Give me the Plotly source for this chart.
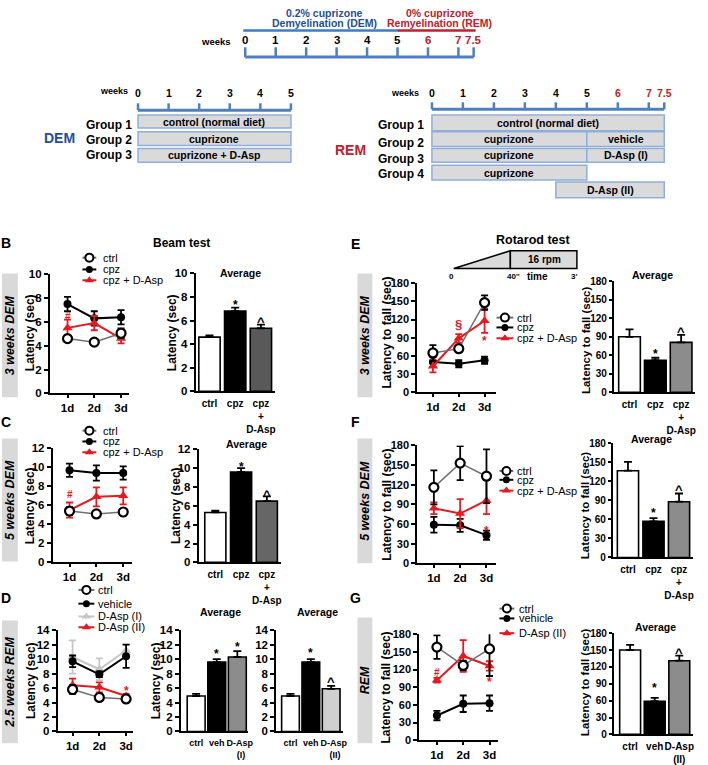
import plotly.graph_objects as go

W, H = 708, 765
FONT = "Liberation Sans, Arial, Helvetica, sans-serif"
RED = "#e8191e"
DKRED = "#c0202a"
BLUE = "#1f4e9e"
AXBLUE = "#4f7fbf"
BOXFILL = "#dadada"
BOXLINE = "#8eaedb"
SIDEFILL = "#d9d9d9"
CTRL_LINE = "#707070"
LGRAY = "#c6c6c6"

# ---------------- data ----------------
days = [1, 2, 3]
day_labels = ["1d", "2d", "3d"]
groups3 = [0, 1, 2]

# B: beam test, 3 weeks DEM
B_ctrl = [4.6, 4.3, 5.05]
B_ctrl_err = [0.3, 0.2, 0.4]
B_cpz = [7.5, 6.3, 6.4]
B_cpz_err = [0.6, 0.6, 0.6]
B_dasp = [5.5, 5.9, 4.6]
B_dasp_err = [0.7, 0.6, 0.4]
B_avg = [4.6, 6.8, 5.35]
B_avg_err = [0.15, 0.3, 0.3]

# C: beam test, 5 weeks DEM
C_ctrl = [5.4, 5.1, 5.3]
C_ctrl_err = [0.4, 0.3, 0.3]
C_cpz = [9.7, 9.4, 9.4]
C_cpz_err = [0.7, 0.8, 0.7]
C_dasp = [5.5, 6.9, 7.0]
C_dasp_err = [0.8, 1.0, 0.9]
C_avg = [5.3, 9.6, 6.5]
C_avg_err = [0.2, 0.4, 0.5]

# D: beam test, 2.5 weeks REM
D_ctrl = [5.8, 4.7, 4.5]
D_ctrl_err = [0.6, 0.4, 0.4]
D_veh = [9.7, 7.9, 10.4]
D_veh_err = [0.8, 0.4, 1.6]
D_daspI = [10.3, 8.6, 11.2]
D_daspI_err = [2.3, 1.5, 0.8]
D_daspII = [6.4, 6.1, 4.9]
D_daspII_err = [0.9, 0.7, 0.3]
D_avgI = [4.9, 9.6, 10.3]
D_avgI_err = [0.3, 0.4, 0.8]
D_avgII = [4.9, 9.6, 5.9]
D_avgII_err = [0.3, 0.4, 0.4]

# E: rotarod, 3 weeks DEM
E_ctrl = [65, 72, 148]
E_ctrl_err = [13, 5, 12]
E_cpz = [50, 47, 53]
E_cpz_err = [8, 6, 6]
E_dasp = [43, 89, 118]
E_dasp_err = [10, 7, 20]
E_avg = [90, 52, 81]
E_avg_err = [12, 4, 12]

# F: rotarod, 5 weeks DEM
F_ctrl = [116, 153, 133]
F_ctrl_err = [26, 26, 41]
F_cpz = [59, 58, 43]
F_cpz_err = [12, 10, 7]
F_dasp = [84, 76, 96]
F_dasp_err_up = [9, 22, 32]
F_dasp_err_down = [9, 22, 21]
F_avg = [137, 57, 88]
F_avg_err = [14, 5, 13]

# G: rotarod, REM
G_ctrl = [158, 127, 155]
G_ctrl_err = [20, 8, 46]
G_veh = [42, 62, 63]
G_veh_err = [8, 14, 13]
G_daspII = [102, 143, 126]
G_daspII_err = [4, 27, 8]
G_avg = [150, 59, 131]
G_avg_err = [9, 6, 9]

bar_labels_cpz = ["ctrl", "cpz", "cpz<br>+<br>D-Asp"]
bar_labels_I = ["ctrl", "veh", "&nbsp;&nbsp;D-Asp<br>&nbsp;&nbsp;&nbsp;(I)"]
bar_labels_II = ["ctrl", "veh", "&nbsp;&nbsp;D-Asp<br>&nbsp;&nbsp;&nbsp;(II)"]
bar_labels_IIg = ["ctrl", "veh", "D-Asp<br>(II)"]

# significance marks (category, value, symbol, colour)
B_line_marks = [(1, 6.5, "#", RED)]
B_bar_marks = [(1, 7.7, "*", "black"), (2, 6.25, "^", "black")]
C_line_marks = [(1, 7.3, "#", RED)]
C_bar_marks = [(1, 10.5, "*", "black"), (2, 7.65, "^", "black")]
D_line_marks = [(3, 6.2, "*", RED)]
D_bar1_marks = [(1, 11.3, "*", "black"), (2, 12.2, "*", "black")]
D_bar2_marks = [(1, 11.4, "*", "black"), (2, 7.5, "^", "black")]
E_line_marks = [(2, 113, "§", RED), (3, 91, "*", RED)]
E_bar_marks = [(1, 68, "*", "black"), (2, 105, "^", "black")]
F_line_marks = [(3, 55, "*", RED)]
F_bar_marks = [(1, 76, "*", "black"), (2, 113, "^", "black")]
G_line_marks = [(1, 117, "#", RED), (2, 187, "§", RED), (3, 105, "*", RED)]
G_bar_marks = [(1, 90, "*", "black"), (2, 152, "^", "black")]

# schematic timelines (weeks)
top_weeks = [0, 1, 2, 3, 4, 5, 6, 7, 7.5]
dem_weeks = [0, 1, 2, 3, 4, 5]
rem_weeks = [0, 1, 2, 3, 4, 5, 6, 7, 7.5]

# ---------------- helpers ----------------
def X(px):
    return px / W


def Y(py):
    return 1 - py / H


fig = go.Figure()
layout = dict(width=W, height=H, margin=dict(l=0, r=0, t=0, b=0),
              paper_bgcolor="white", plot_bgcolor="rgba(0,0,0,0)",
              showlegend=False, font=dict(family=FONT, color="black"))
shapes, annotations = [], []


def fnt(size, color="black", bold=True, italic=False):
    return dict(family=FONT, size=size, color=color,
                weight="bold" if bold else "normal",
                style="italic" if italic else "normal")


def text(x, y, s, size=11, color="black", bold=True, italic=False, angle=0, xanchor="center"):
    annotations.append(dict(x=X(x), y=Y(y), xref="paper", yref="paper", text=s,
                            showarrow=False, font=fnt(size, color, bold, italic),
                            textangle=angle, xanchor=xanchor, yanchor="middle"))


def pline(x0, y0, x1, y1, color, width):
    shapes.append(dict(type="line", xref="paper", yref="paper", x0=X(x0), y0=Y(y0),
                       x1=X(x1), y1=Y(y1), line=dict(color=color, width=width)))


def prect(x0, y0, x1, y1, fill, line_color=None, width=0):
    shapes.append(dict(type="rect", xref="paper", yref="paper", x0=X(x0), y0=Y(y0),
                       x1=X(x1), y1=Y(y1), fillcolor=fill, layer="below",
                       line=dict(color=line_color if line_color else fill, width=width)))


n_axes = [0]


def new_axes(xd, yd, xr, yr, xextra, yextra):
    n_axes[0] += 1
    n = n_axes[0]
    s = "" if n == 1 else str(n)
    layout["xaxis" + s] = dict(domain=[X(xd[0]), X(xd[1])], range=xr, anchor="y" + s, **xextra)
    layout["yaxis" + s] = dict(domain=[Y(yd[1]), Y(yd[0])], range=yr, anchor="x" + s, **yextra)
    return "x" + s, "y" + s


def yax(ticks, size, ticklen=4):
    return dict(showline=True, linecolor="black", linewidth=1.6, ticks="outside", ticklen=ticklen,
                tickwidth=1.6, tickcolor="black", tickvals=ticks, tickfont=fnt(size),
                showgrid=False, zeroline=False, fixedrange=True)


def xax_line():
    return dict(showline=True, linecolor="black", linewidth=1.6, ticks="outside", ticklen=3,
                tickwidth=1.6, tickcolor="black", tickvals=days, ticktext=day_labels,
                tickfont=fnt(11.5), showgrid=False, zeroline=False, fixedrange=True, tickangle=0)


def xax_bar(labels, size):
    return dict(showline=True, linecolor="black", linewidth=1.6, ticks="outside", ticklen=2,
                tickcolor="rgba(0,0,0,0)", tickvals=groups3, ticktext=labels,
                tickfont=fnt(size), showgrid=False, zeroline=False, fixedrange=True, tickangle=0)


STY = {
    "ctrl": dict(line=dict(color=CTRL_LINE, width=1.5),
                 marker=dict(symbol="circle", size=9, color="white", line=dict(color="black", width=2.2)),
                 ecol="black"),
    "cpz": dict(line=dict(color="black", width=2),
                marker=dict(symbol="circle", size=8, color="black"), ecol="black"),
    "dasp": dict(line=dict(color=RED, width=2),
                 marker=dict(symbol="triangle-up", size=9, color=RED), ecol=RED),
    "daspI": dict(line=dict(color=LGRAY, width=2),
                  marker=dict(symbol="triangle-up", size=9, color=LGRAY), ecol=LGRAY),
}
MARK_SIZE = {"*": 12, "^": 13, "#": 10, "§": 13}
MARK_SHIFT = {"*": -4, "^": -4, "#": -1, "§": -1}


def add_marks(xa, ya, marks):
    for x, y, sym, col in marks:
        annotations.append(dict(x=x, y=y, xref=xa, yref=ya, text=sym, showarrow=False,
                                font=fnt(MARK_SIZE[sym], col), yshift=MARK_SHIFT[sym]))


def line_chart(xd, yd, xr, ymax, ystep, series, marks, ysize=11.5):
    xa, ya = new_axes(xd, yd, xr, [0, ymax], xax_line(),
                      yax(list(range(0, ymax + 1, ystep)), ysize))
    for vals, eup, edn, sty in series:
        s = STY[sty]
        fig.add_trace(go.Scatter(
            x=days, y=vals, xaxis=xa, yaxis=ya, mode="lines+markers",
            line=s["line"], marker=s["marker"], cliponaxis=False,
            error_y=dict(type="data", symmetric=False, array=eup, arrayminus=edn,
                         color=s["ecol"], thickness=1.8, width=3.5)))
    add_marks(xa, ya, marks)


def bar_chart(xd, yd, xr, ymax, ystep, vals, errs, colors, labels, width, marks,
              ysize=11.5, xsize=10, ticklen=4):
    xa, ya = new_axes(xd, yd, xr, [0, ymax], xax_bar(labels, xsize),
                      yax(list(range(0, ymax + 1, ystep)), ysize, ticklen))
    fig.add_trace(go.Bar(
        x=groups3, y=vals, xaxis=xa, yaxis=ya, width=width,
        marker=dict(color=colors, line=dict(color="black", width=1.6)),
        error_y=dict(type="data", symmetric=False, array=errs, arrayminus=[0, 0, 0],
                     color="black", thickness=1.8, width=4)))
    add_marks(xa, ya, marks)


# ---------------- canvas (legends) ----------------
cx, cy = new_axes((0, W), (0, H), [0, W], [H, 0],
                  dict(visible=False, fixedrange=True), dict(visible=False, fixedrange=True))

LEG_MARK = {
    "ctrl": dict(symbol="circle", size=8, color="white", line=dict(color="black", width=2)),
    "cpz": dict(symbol="circle", size=7, color="black"),
    "dasp": dict(symbol="triangle-up", size=8, color=RED),
    "daspI": dict(symbol="triangle-up", size=8, color=LGRAY),
}


def legend(x0, x1, tx, rows):
    for y, sty, label in rows:
        fig.add_trace(go.Scatter(x=[x0, x1], y=[y, y], xaxis=cx, yaxis=cy, mode="lines",
                                 line=dict(color=STY[sty]["line"]["color"], width=2), hoverinfo="skip"))
        fig.add_trace(go.Scatter(x=[(x0 + x1) / 2], y=[y], xaxis=cx, yaxis=cy, mode="markers",
                                 marker=LEG_MARK[sty], hoverinfo="skip"))
        text(tx, y, label, size=11, bold=False, xanchor="left")


legend(83, 97, 102, [(256, "ctrl", "ctrl"), (268, "cpz", "cpz"), (279, "dasp", "cpz + D-Asp")])
legend(83, 97, 102, [(432, "ctrl", "ctrl"), (443, "cpz", "cpz"), (454, "dasp", "cpz + D-Asp")])
legend(79, 95, 97, [(594, "ctrl", "ctrl"), (608, "cpz", "vehicle"),
                    (621, "daspI", "D-Asp (I)"), (632, "dasp", "D-Asp (II)")])
legend(500, 517, 519, [(317, "ctrl", "ctrl"), (327, "cpz", "cpz"), (338, "dasp", "cpz + D-Asp")])
legend(503, 517, 519, [(473, "ctrl", "ctrl"), (482, "cpz", "cpz"), (493, "dasp", "cpz + D-Asp")])
legend(503, 518, 521, [(613, "ctrl", "ctrl"), (623, "cpz", "vehicle"), (638, "dasp", "D-Asp (II)")])

# ---------------- charts ----------------
GRAY_DARK = "#595959"
GRAY_MID = "#8c8c8c"
GRAY_LIGHT = "#d0d0d0"

# B
line_chart((50, 130), (273, 394), [0.333, 3.30], 10, 2,
           [(B_cpz, B_cpz_err, B_cpz_err, "cpz"),
            (B_dasp, B_dasp_err, B_dasp_err, "dasp"),
            (B_ctrl, B_ctrl_err, B_ctrl_err, "ctrl")], B_line_marks)
bar_chart((197, 277), (272, 392), [-0.54, 2.55], 10, 2, B_avg, B_avg_err,
          ["white", "black", GRAY_DARK], bar_labels_cpz, 0.83, B_bar_marks)
# C
line_chart((53, 133), (450, 566), [0.37, 3.33], 12, 2,
           [(C_cpz, C_cpz_err, C_cpz_err, "cpz"),
            (C_dasp, C_dasp_err, C_dasp_err, "dasp"),
            (C_ctrl, C_ctrl_err, C_ctrl_err, "ctrl")], C_line_marks)
bar_chart((200, 283), (451, 566), [-0.65, 2.55], 12, 2, C_avg, C_avg_err,
          ["white", "black", "#666666"], bar_labels_cpz, 0.82, C_bar_marks)
# D
line_chart((58, 134), (635, 738), [0.44, 3.26], 14, 2,
           [(D_daspI, D_daspI_err, D_daspI_err, "daspI"),
            (D_veh, D_veh_err, D_veh_err, "cpz"),
            (D_daspII, D_daspII_err, D_daspII_err, "dasp"),
            (D_ctrl, D_ctrl_err, D_ctrl_err, "ctrl")], D_line_marks)
bar_chart((182, 250), (635, 738), [-0.75, 2.53], 14, 2, D_avgI, D_avgI_err,
          ["white", "black", GRAY_MID], bar_labels_I, 0.87, D_bar1_marks, xsize=9)
bar_chart((278, 345), (635, 738), [-0.71, 2.56], 14, 2, D_avgII, D_avgII_err,
          ["white", "black", GRAY_LIGHT], bar_labels_II, 0.87, D_bar2_marks, xsize=9)
# E
line_chart((420, 500), (282, 393), [0.385, 3.46], 180, 30,
           [(E_cpz, E_cpz_err, E_cpz_err, "cpz"),
            (E_dasp, E_dasp_err, E_dasp_err, "dasp"),
            (E_ctrl, E_ctrl_err, E_ctrl_err, "ctrl")], E_line_marks, ysize=11)
bar_chart((618, 700), (280, 393), [-0.615, 2.54], 180, 30, E_avg, E_avg_err,
          ["white", "black", GRAY_MID], bar_labels_cpz, 0.84, E_bar_marks, ysize=10, ticklen=3)
# F
line_chart((420, 500), (447, 567), [0.36, 3.38], 180, 30,
           [(F_cpz, F_cpz_err, F_cpz_err, "cpz"),
            (F_dasp, F_dasp_err_up, F_dasp_err_down, "dasp"),
            (F_ctrl, F_ctrl_err, F_ctrl_err, "ctrl")], F_line_marks, ysize=11)
bar_chart((617, 698), (445, 561), [-0.60, 2.55], 180, 30, F_avg, F_avg_err,
          ["white", "black", GRAY_MID], bar_labels_cpz, 0.83, F_bar_marks, ysize=10, ticklen=3)
# G
line_chart((422, 502), (639, 747), [0.32, 3.34], 180, 30,
           [(G_veh, G_veh_err, G_veh_err, "cpz"),
            (G_daspII, G_daspII_err, G_daspII_err, "dasp"),
            (G_ctrl, G_ctrl_err, G_ctrl_err, "ctrl")], G_line_marks, ysize=11)
bar_chart((618, 698), (638, 741), [-0.67, 2.56], 180, 30, G_avg, G_avg_err,
          ["white", "black", GRAY_MID], bar_labels_IIg, 0.85, G_bar_marks, ysize=10, ticklen=3)

# stray asterisk beside E axis
text(398, 364, "*", size=8)

# ---------------- panel texts ----------------
for lx, ly, lt in [(6, 241, "B"), (6, 423, "C"), (6, 602, "D"),
                   (358, 242, "E"), (358, 423, "F"), (358, 602, "G")]:
    text(lx, ly, lt, size=14)

text(183, 241, "Beam test", size=12)
text(537, 238, "Rotarod test", size=12.5)
for ax_, ay_ in [(242, 272), (248, 446), (222, 616), (320, 616), (657, 274), (656, 440), (660, 632)]:
    text(ax_, ay_, "Average", size=10.5)

for tx_, ty_, tt_, ts_ in [(31, 332, "Latency (sec)", 12), (174, 332, "Latency (sec)", 12),
                           (31, 508, "Latency (sec)", 12), (178, 508, "Latency (sec)", 12),
                           (32, 686, "Latency (sec)", 12), (157, 686, "Latency (sec)", 12),
                           (390, 332, "Latency to fall (sec)", 12), (590, 340, "Latency to fall (sec)", 11.5),
                           (390, 507, "Latency to fall (sec)", 12), (590, 508, "Latency to fall (sec)", 11.5),
                           (389, 693, "Latency to fall (sec)", 12), (589, 688, "Latency to fall (sec)", 11.5)]:
    text(tx_, ty_, tt_, size=ts_, angle=-90)

# side grey labels
for x0, x1, y0, y1, lab in [(2, 18, 272, 398, "3 weeks DEM"), (2, 18, 440, 565, "5 weeks DEM"),
                            (2, 18, 625, 750, "2.5 weeks REM"), (360, 375, 272, 398, "3 weeks DEM"),
                            (360, 375, 440, 567, "5 weeks DEM"), (360, 375, 622, 750, "REM")]:
    prect(x0, y0, x1, y1, SIDEFILL)
    text((x0 + x1) / 2, (y0 + y1) / 2, lab, size=12.5, italic=True, angle=-90)

# rotarod protocol sketch
tri = "M {} {} L {} {} L {} {} Z".format(X(457), Y(267), X(514), Y(249), X(514), Y(267))
shapes.append(dict(type="path", xref="paper", yref="paper", path=tri, fillcolor=BOXFILL,
                   line=dict(color="black", width=1.5)))
shapes.append(dict(type="rect", xref="paper", yref="paper", x0=X(514), y0=Y(249), x1=X(581), y1=Y(267),
                   fillcolor=BOXFILL, line=dict(color="black", width=1.5)))
text(548, 258, "16 rpm", size=10)
text(455, 275, "0", size=8)
text(517, 275, "40''", size=8)
text(541, 275, "time", size=10)
text(578, 275, "3'", size=8)

# ---------------- panel A timelines ----------------
def timeline(x0, pxw, y_axis, tick_h, y_lab, weeks, lab_size):
    pline(x0, y_axis, x0 + pxw * weeks[-1], y_axis, AXBLUE, 3)
    for w in weeks:
        xp = x0 + pxw * w
        pline(xp, y_axis, xp, y_axis - tick_h, AXBLUE, 2.5)
        col = DKRED if w > 5 else "black"
        text(xp, y_lab, ("%g" % w), size=lab_size, color=col)


# top
pline(245, 25, 400, 25, "#3a7cc8", 2.5)
pline(400, 25, 479, 25, DKRED, 2.5)
text(327, 7, "0.2% cuprizone", size=10.5, color=BLUE)
text(327, 17, "Demyelination (DEM)", size=10.5, color=BLUE)
text(443, 7, "0% cuprizone", size=10.5, color=DKRED)
text(443, 17, "Remyelination (REM)", size=10.5, color=DKRED)
text(218, 36, "weeks", size=9.5)
timeline(247, 30.67, 52, 10, 35, top_weeks, 11.5)

# DEM groups
DEM_X0, DEM_PXW = 139, 30.8
text(115, 86, "weeks", size=9)
timeline(DEM_X0, DEM_PXW, 106, 7, 88, dem_weeks, 10.5)
for w0, w1, y0, y1, lab in [(0, 5, 111, 124, "control (normal diet)"), (0, 5, 128, 142, "cuprizone"),
                            (0, 5, 145, 159, "cuprizone + D-Asp")]:
    xa0, xa1 = DEM_X0 + DEM_PXW * w0, DEM_X0 + DEM_PXW * w1
    prect(xa0, y0, xa1, y1, BOXFILL, BOXLINE, 1.5)
    text((xa0 + xa1) / 2, (y0 + y1) / 2, lab, size=10.5)
for gy, gl in [(121, "Group 1"), (136, "Group 2"), (152, "Group 3")]:
    text(135, gy, gl, size=12, xanchor="right")
text(60, 134, "DEM", size=14, color=BLUE)

# REM groups
REM_X0, REM_PXW = 435, 31.2
text(408, 89, "weeks", size=9)
timeline(REM_X0, REM_PXW, 105, 7, 88, rem_weeks, 10.5)
for w0, w1, y0, y1, lab in [(0, 7.5, 111, 127, "control (normal diet)"),
                            (0, 5, 128, 143, "cuprizone"), (5, 7.5, 128, 143, "vehicle"),
                            (0, 5, 145, 159, "cuprizone"), (5, 7.5, 145, 159, "D-Asp (I)"),
                            (0, 5, 162, 177, "cuprizone"), (4, 7.5, 179, 195, "D-Asp (II)")]:
    xa0, xa1 = REM_X0 + REM_PXW * w0, REM_X0 + REM_PXW * w1
    prect(xa0, y0, xa1, y1, BOXFILL, BOXLINE, 1.5)
    text((xa0 + xa1) / 2, (y0 + y1) / 2, lab, size=10.5)
for gy, gl in [(121, "Group 1"), (139, "Group 2"), (156, "Group 3"), (171, "Group 4")]:
    text(429, gy, gl, size=12, xanchor="right")
text(353, 146, "REM", size=14, color=DKRED)

layout["shapes"] = shapes
layout["annotations"] = annotations
fig.update_layout(**layout)
fig.write_html("out.html", config={"displayModeBar": False},
               post_script="document.body.style.margin='0px';document.body.style.overflow='hidden';")
